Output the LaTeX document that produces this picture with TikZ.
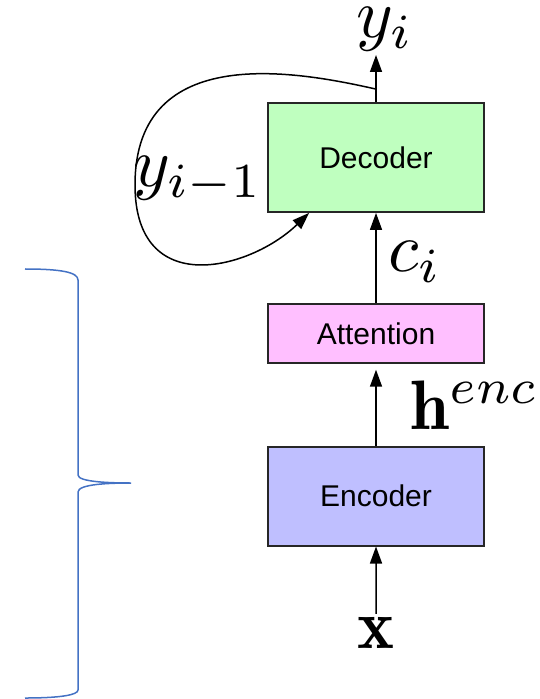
\documentclass[tikz,border=0pt]{standalone}
\usepackage{fontspec}
\newfontfamily\boxfont{Liberation Sans}
\usetikzlibrary{positioning,arrows.meta}
\definecolor{decfill}{HTML}{BFFFBF}
\definecolor{attfill}{HTML}{FFBFFF}
\definecolor{encfill}{HTML}{BFBFFF}
\definecolor{bracecol}{HTML}{4472C4}

\begin{document}
\begin{tikzpicture}[x=0.5pt,y=-0.5pt,
 box/.style={draw=black!85,line width=0.9pt,minimum width=108pt,
 font=\boxfont\fontsize{15}{18}\selectfont},
 arr/.style={-{Triangle[length=8.5pt,width=6pt]},line width=0.75pt},
 lbl/.style={scale=3.5,inner sep=0.3pt}]
\useasboundingbox (0,0) rectangle (539,699);
\node[box,fill=decfill,minimum height=54.5pt] (dec) at (376,157.5) {Decoder};
\node[box,fill=attfill,minimum height=29.5pt,below=45pt of dec] (att) {Attention};
\node[box,fill=encfill,minimum height=49.5pt,below=41pt of att] (enc) {Encoder};
\node[lbl] (xin) at (376,633) {$\mathbf{x}$};
\node[lbl] (henc) at (475,405) {$\mathbf{h}^{enc}$};
\node[lbl] (ci) at (415,262) {$c_i$};
\node[lbl,anchor=south] (yi) at (385,55) {$y_i$};
\node[lbl] (yprev) at (198,180) {$y_{i-1}$};
\coordinate (fb) at ([yshift=6.5pt]dec.north);
\draw[arr] (xin) -- (enc);
\draw[arr,shorten >=3pt] (enc) -- (att);
\draw[arr] (att) -- (dec);
\draw[arr] (dec.north) -- (dec.north |- yi.south);
% feedback of the previous output
\draw[arr] (fb) .. controls (300,72) and (135,40) .. (135,185)
 .. controls (135,300) and (250,270) .. ([xshift=21pt]dec.south west);
% brace on the left
\draw[bracecol,line width=0.75pt] (25,269) .. controls (60,269) and (78,272) .. (78,280)
 -- (78,475) .. controls (78,482) and (110,483) .. (131,483)
 .. controls (110,483) and (78,484) .. (78,492) -- (78,690)
 .. controls (78,695) and (60,698) .. (25,698);
\end{tikzpicture}
\end{document}
